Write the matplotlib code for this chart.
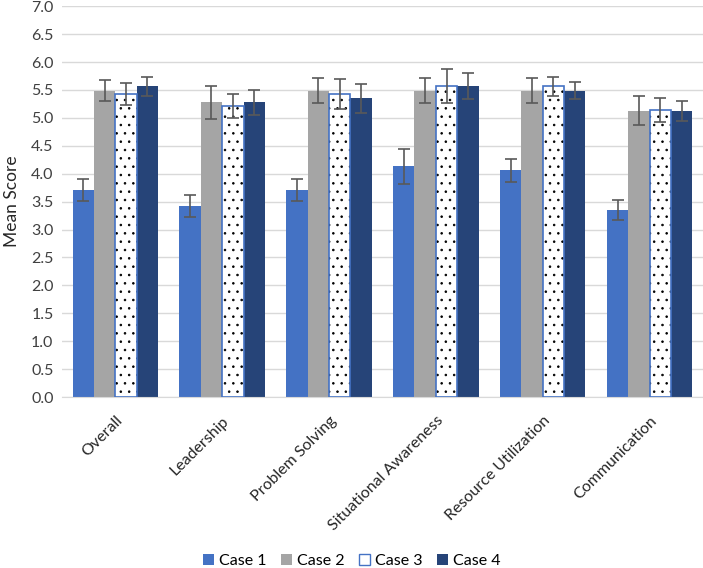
import numpy as np
import matplotlib.pyplot as plt
from matplotlib.patches import Patch

plt.rcParams['font.family'] = ['Lato', 'DejaVu Sans']
plt.rcParams['hatch.linewidth'] = 0.6

# data
categories = ['Overall', 'Leadership', 'Problem Solving', 'Situational Awareness',
              'Resource Utilization', 'Communication']
case1 = [3.71, 3.42, 3.71, 4.13, 4.06, 3.35]
case2 = [5.49, 5.28, 5.49, 5.49, 5.49, 5.13]
case3 = [5.43, 5.21, 5.43, 5.57, 5.57, 5.14]
case4 = [5.57, 5.28, 5.35, 5.57, 5.49, 5.13]
err1 = [0.19, 0.20, 0.19, 0.32, 0.20, 0.18]
err2 = [0.19, 0.30, 0.22, 0.22, 0.22, 0.26]
err3 = [0.20, 0.21, 0.27, 0.30, 0.17, 0.21]
err4 = [0.17, 0.22, 0.26, 0.23, 0.16, 0.18]

fig = plt.figure(figsize=(7.03, 5.68), dpi=100)
ax = fig.add_axes([0.088, 0.301, 0.912, 0.688])

x = np.arange(len(categories))
w = 0.2
err_kw = dict(ecolor='#595959', elinewidth=1.2, capsize=4, capthick=1.2)

ax.bar(x - 1.5 * w, case1, w, yerr=err1, color='#4472C4', error_kw=err_kw, zorder=2)
ax.bar(x - 0.5 * w, case2, w, yerr=err2, color='#A5A5A5', error_kw=err_kw, zorder=2)
# dotted fill first (hatch colour follows edgecolor), then the blue outline on top
ax.bar(x + 0.5 * w, case3, w, color='white', edgecolor='black', hatch='..',
       linewidth=0, zorder=2)
ax.bar(x + 0.5 * w, case3, w, yerr=err3, color='none', edgecolor='#4472C4',
       linewidth=1.2, error_kw=err_kw, zorder=3)
ax.bar(x + 1.5 * w, case4, w, yerr=err4, color='#264478', error_kw=err_kw, zorder=2)

ax.set_ylim(0, 7)
ax.set_xlim(-0.5, len(categories) - 0.5)
ax.set_yticks(np.arange(0, 7.01, 0.5))
ax.set_yticklabels([f'{v:.1f}' for v in np.arange(0, 7.01, 0.5)], fontsize=11.5, color='#404040')
ax.set_xticks(x)
ax.set_xticklabels(categories, rotation=45, ha='right', rotation_mode='anchor',
                   fontsize=11.5, color='#262626')
ax.tick_params(axis='x', length=0, pad=12)
ax.tick_params(axis='y', length=0, pad=6)
ax.set_ylabel('Mean Score', fontsize=12.5, color='#262626', labelpad=8)

ax.grid(axis='y', color='#D9D9D9', linewidth=1, zorder=0)
ax.set_axisbelow(True)
for s in ['top', 'right', 'left']:
    ax.spines[s].set_visible(False)
ax.spines['bottom'].set_color('#D9D9D9')

handles = [Patch(facecolor='#4472C4', label='Case 1'),
           Patch(facecolor='#A5A5A5', label='Case 2'),
           Patch(facecolor='white', edgecolor='#4472C4', label='Case 3'),
           Patch(facecolor='#264478', label='Case 4')]
fig.legend(handles=handles, loc='lower center', bbox_to_anchor=(0.5, -0.025), ncol=4,
           frameon=False, fontsize=11.5, handlelength=0.7, handleheight=0.7,
           handletextpad=0.3, columnspacing=0.9)

fig.savefig('out.png', dpi=100)
